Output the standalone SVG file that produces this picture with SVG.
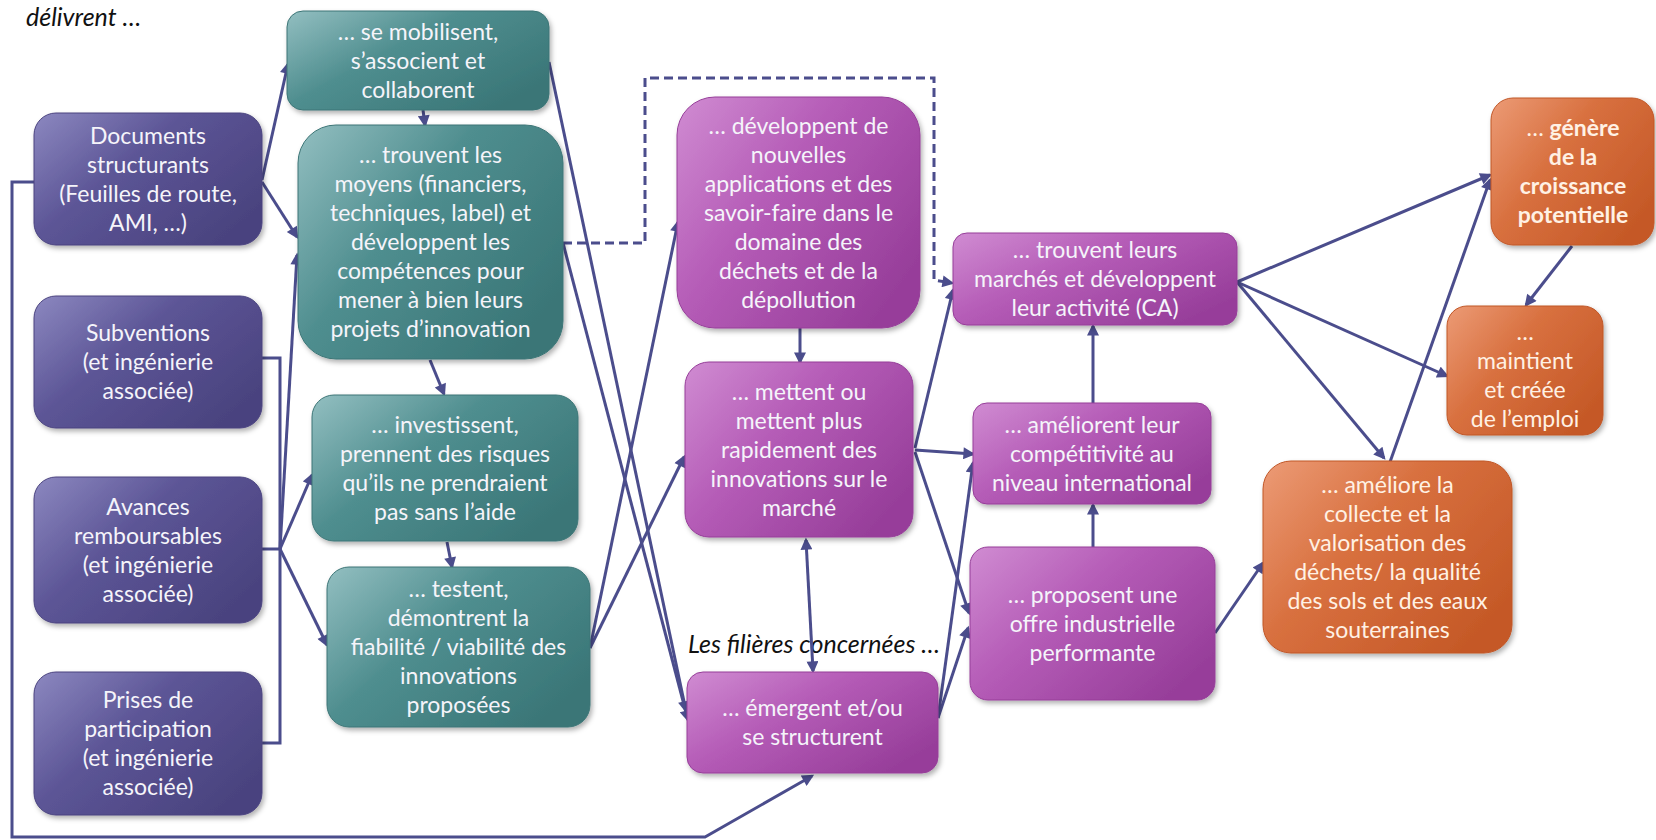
<svg xmlns="http://www.w3.org/2000/svg" width="1656" height="840" viewBox="0 0 1656 840">
<style>
.t{font-family:Lato,"Noto Sans","DejaVu Sans",sans-serif;font-size:23px;text-anchor:middle;fill:#f5f4fa}
.to{fill:#fff1e4}
.b{font-weight:bold}
.it{font-family:Lato,"Noto Sans","DejaVu Sans",sans-serif;font-size:25px;font-style:italic;fill:#111}
.c{fill:none;stroke:#4b4d8c;stroke-width:3}
.a{marker-end:url(#ah)}
.d{stroke-dasharray:9 5}
.np{fill:url(#gP);filter:url(#sh);stroke:#4a437f;stroke-width:1}
.nt{fill:url(#gT);filter:url(#sh);stroke:#3c7576;stroke-width:1}
.nm{fill:url(#gM);filter:url(#sh);stroke:#963e99;stroke-width:1}
.no{fill:url(#gO);filter:url(#sh);stroke:#c05626;stroke-width:1}
</style>
<defs>
<linearGradient id="gP" x1="0" y1="0" x2="1" y2="0.7"><stop offset="0" stop-color="#8c88c0"/><stop offset="0.45" stop-color="#5c5596"/><stop offset="1" stop-color="#4a437f"/></linearGradient>
<linearGradient id="gT" x1="0" y1="0" x2="1" y2="0.7"><stop offset="0" stop-color="#93bfc1"/><stop offset="0.45" stop-color="#4f8e8f"/><stop offset="1" stop-color="#3a7677"/></linearGradient>
<linearGradient id="gM" x1="0" y1="0" x2="1" y2="0.7"><stop offset="0" stop-color="#d08cd2"/><stop offset="0.45" stop-color="#b55cb7"/><stop offset="1" stop-color="#973e9a"/></linearGradient>
<linearGradient id="gO" x1="0" y1="0" x2="1" y2="0.7"><stop offset="0" stop-color="#ec9b76"/><stop offset="0.45" stop-color="#d8703f"/><stop offset="1" stop-color="#c55927"/></linearGradient>
<filter id="sh" x="-10%" y="-10%" width="125%" height="130%"><feDropShadow dx="2" dy="3" stdDeviation="2.5" flood-color="#000" flood-opacity="0.3"/></filter>
<marker id="ah" viewBox="0 0 10 10" refX="8" refY="5" markerWidth="14" markerHeight="12" markerUnits="userSpaceOnUse" orient="auto-start-reverse"><path d="M0,0 L10,5 L0,10 z" fill="#4b4d8c"/></marker>
</defs>

<text class="it" x="26" y="26">délivrent …</text>
<text class="it" x="688" y="653">Les filières concernées …</text>

<g id="connectors">
<path class="c a" d="M262,180 L288,64"/>
<path class="c a" d="M262,182 L297,237"/>
<path class="c" d="M262,358 H280 V743 H262"/>
<path class="c" d="M262,549 H280"/>
<path class="c a" d="M280,549 L297,255"/>
<path class="c a" d="M280,549 L312,475"/>
<path class="c a" d="M280,549 L327,645"/>
<path class="c a" d="M34,182 H12 V837 H705 L812,776"/>
<path class="c a" d="M423,110 L425,125"/>
<path class="c a" d="M430,360 L444,394"/>
<path class="c a" d="M447,542 L452,567"/>
<path class="c a" d="M549,62 L686,711"/>
<path class="c a" d="M563,243 L688,720"/>
<path class="c a" d="M590,648 L678,222"/>
<path class="c a" d="M590,648 L684,457"/>
<path class="c d a" d="M563,243 H645 V78 H934 V280 L952,283"/>
<path class="c a" d="M800,328 L800,362"/>
<path class="c a" d="M806,540 L813,671" style="marker-start:url(#ah)"/>
<path class="c a" d="M915,448 L953,290"/>
<path class="c a" d="M915,450 L973,454"/>
<path class="c a" d="M915,452 L969,613"/>
<path class="c a" d="M938,718 L973,463"/>
<path class="c a" d="M938,718 L968,628"/>
<path class="c a" d="M1093,403 L1093,326"/>
<path class="c a" d="M1093,547 L1093,505"/>
<path class="c a" d="M1215,633 L1263,563"/>
<path class="c a" d="M1237,282 L1490,175"/>
<path class="c a" d="M1237,282 L1447,376"/>
<path class="c a" d="M1237,282 L1384,458"/>
<path class="c a" d="M1390,462 L1490,180"/>
<path class="c a" d="M1572,246 L1526,305"/>
</g>

<g id="n-documents"><rect class="np" x="34" y="113" width="228" height="132" rx="22"/>
<text class="t"><tspan x="148" y="143.5">Documents</tspan><tspan x="148" y="172.5">structurants</tspan><tspan x="148" y="201.5">(Feuilles de route,</tspan><tspan x="148" y="230.5">AMI, …)</tspan></text></g>
<g id="n-subventions"><rect class="np" x="34" y="296" width="228" height="132" rx="22"/>
<text class="t"><tspan x="148" y="341">Subventions</tspan><tspan x="148" y="370">(et ingénierie</tspan><tspan x="148" y="399">associée)</tspan></text></g>
<g id="n-avances"><rect class="np" x="34" y="477" width="228" height="146" rx="22"/>
<text class="t"><tspan x="148" y="514.5">Avances</tspan><tspan x="148" y="543.5">remboursables</tspan><tspan x="148" y="572.5">(et ingénierie</tspan><tspan x="148" y="601.5">associée)</tspan></text></g>
<g id="n-prises"><rect class="np" x="34" y="672" width="228" height="143" rx="22"/>
<text class="t"><tspan x="148" y="707.5">Prises de</tspan><tspan x="148" y="736.5">participation</tspan><tspan x="148" y="765.5">(et ingénierie</tspan><tspan x="148" y="794.5">associée)</tspan></text></g>

<g id="n-mobilisent"><rect class="nt" x="287" y="11" width="262" height="99" rx="16"/>
<text class="t"><tspan x="418" y="39.5">… se mobilisent,</tspan><tspan x="418" y="68.5">s’associent et</tspan><tspan x="418" y="97.5">collaborent</tspan></text></g>
<g id="n-moyens"><rect class="nt" x="298" y="125" width="265" height="234" rx="38"/>
<text class="t"><tspan x="430.5" y="162.5">… trouvent les</tspan><tspan x="430.5" y="191.5">moyens (financiers,</tspan><tspan x="430.5" y="220.5">techniques, label) et</tspan><tspan x="430.5" y="249.5">développent les</tspan><tspan x="430.5" y="278.5">compétences pour</tspan><tspan x="430.5" y="307.5">mener à bien leurs</tspan><tspan x="430.5" y="336.5">projets d’innovation</tspan></text></g>
<g id="n-investissent"><rect class="nt" x="312" y="395" width="266" height="146" rx="22"/>
<text class="t"><tspan x="445" y="433">… investissent,</tspan><tspan x="445" y="462">prennent des risques</tspan><tspan x="445" y="491">qu’ils ne prendraient</tspan><tspan x="445" y="520">pas sans l’aide</tspan></text></g>
<g id="n-testent"><rect class="nt" x="327" y="567" width="263" height="160" rx="22"/>
<text class="t"><tspan x="458.5" y="597">… testent,</tspan><tspan x="458.5" y="626">démontrent la</tspan><tspan x="458.5" y="655">fiabilité / viabilité des</tspan><tspan x="458.5" y="684">innovations</tspan><tspan x="458.5" y="713">proposées</tspan></text></g>

<g id="n-developpent"><rect class="nm" x="677" y="97" width="243" height="231" rx="38"/>
<text class="t"><tspan x="798.5" y="133.5">… développent de</tspan><tspan x="798.5" y="162.5">nouvelles</tspan><tspan x="798.5" y="191.5">applications et des</tspan><tspan x="798.5" y="220.5">savoir-faire dans le</tspan><tspan x="798.5" y="249.5">domaine des</tspan><tspan x="798.5" y="278.5">déchets et de la</tspan><tspan x="798.5" y="307.5">dépollution</tspan></text></g>
<g id="n-mettent"><rect class="nm" x="685" y="362" width="228" height="175" rx="24"/>
<text class="t"><tspan x="799" y="399.5">… mettent ou</tspan><tspan x="799" y="428.5">mettent plus</tspan><tspan x="799" y="457.5">rapidement des</tspan><tspan x="799" y="486.5">innovations sur le</tspan><tspan x="799" y="515.5">marché</tspan></text></g>
<g id="n-emergent"><rect class="nm" x="687" y="672" width="251" height="101" rx="16"/>
<text class="t"><tspan x="812.5" y="716">… émergent et/ou</tspan><tspan x="812.5" y="745">se structurent</tspan></text></g>
<g id="n-marches"><rect class="nm" x="953" y="233" width="284" height="92" rx="14"/>
<text class="t"><tspan x="1095" y="258">… trouvent leurs</tspan><tspan x="1095" y="287">marchés et développent</tspan><tspan x="1095" y="316">leur activité (CA)</tspan></text></g>
<g id="n-competitivite"><rect class="nm" x="973" y="403" width="238" height="101" rx="14"/>
<text class="t"><tspan x="1092" y="432.5">… améliorent leur</tspan><tspan x="1092" y="461.5">compétitivité au</tspan><tspan x="1092" y="490.5">niveau international</tspan></text></g>
<g id="n-offre"><rect class="nm" x="970" y="547" width="245" height="153" rx="18"/>
<text class="t"><tspan x="1092.5" y="602.5">… proposent une</tspan><tspan x="1092.5" y="631.5">offre industrielle</tspan><tspan x="1092.5" y="660.5">performante</tspan></text></g>

<g id="n-croissance"><rect class="no" x="1491" y="98" width="163" height="147" rx="22"/>
<text class="t to b"><tspan x="1573" y="136"><tspan font-weight="normal">… </tspan>génère</tspan><tspan x="1573" y="165">de la</tspan><tspan x="1573" y="194">croissance</tspan><tspan x="1573" y="223">potentielle</tspan></text></g>
<g id="n-emploi"><rect class="no" x="1447" y="306" width="156" height="129" rx="20"/>
<text class="t to"><tspan x="1525" y="339.5">…</tspan><tspan x="1525" y="368.5">maintient</tspan><tspan x="1525" y="397.5">et créée</tspan><tspan x="1525" y="426.5">de l’emploi</tspan></text></g>
<g id="n-collecte"><rect class="no" x="1263" y="461" width="249" height="192" rx="28"/>
<text class="t to"><tspan x="1387.5" y="492.5">… améliore la</tspan><tspan x="1387.5" y="521.5">collecte et la</tspan><tspan x="1387.5" y="550.5">valorisation des</tspan><tspan x="1387.5" y="579.5">déchets/ la qualité</tspan><tspan x="1387.5" y="608.5">des sols et des eaux</tspan><tspan x="1387.5" y="637.5">souterraines</tspan></text></g>
</svg>
